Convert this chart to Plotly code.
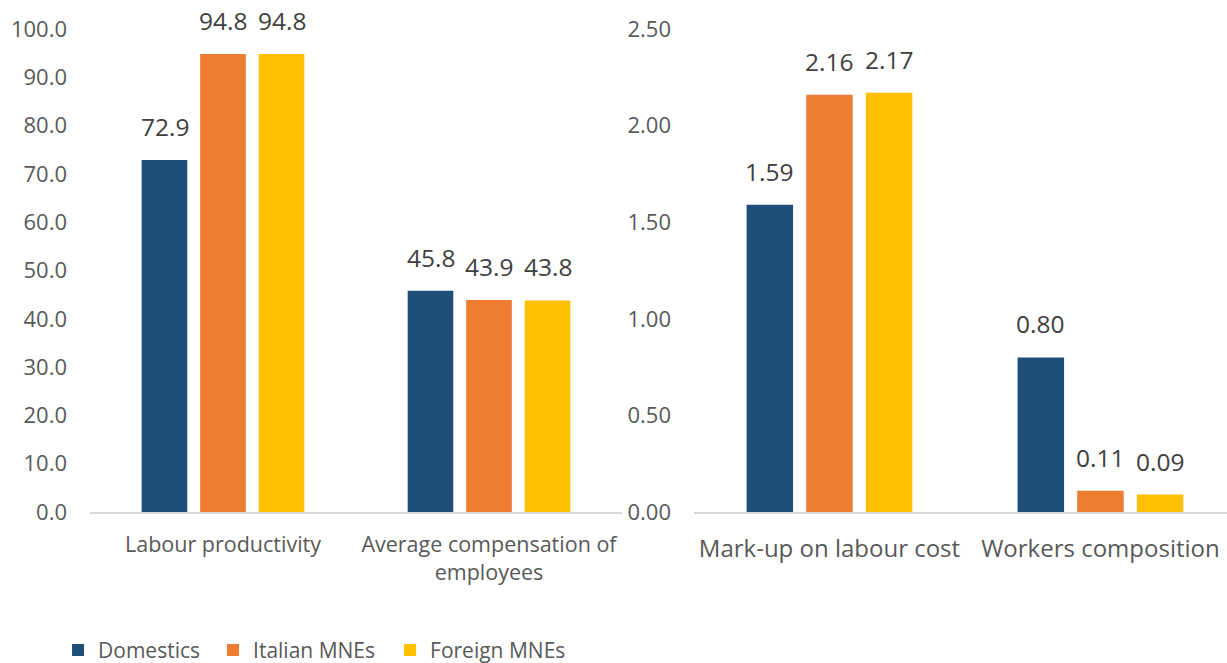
import plotly.graph_objects as go

series = ["Domestics", "Italian MNEs", "Foreign MNEs"]
colors = ["#1F4E79", "#ED7D31", "#FFC000"]

left_categories = ["Labour productivity", "Average compensation of<br>employees"]
left_values = [
    [72.9, 45.8],   # Domestics
    [94.8, 43.9],   # Italian MNEs
    [94.8, 43.8],   # Foreign MNEs
]
right_categories = ["Mark-up on labour cost", "Workers composition"]
right_values = [
    [1.59, 0.80],
    [2.16, 0.11],
    [2.17, 0.09],
]

left_ticks = [0, 10, 20, 30, 40, 50, 60, 70, 80, 90, 100]
right_ticks = [0, 0.5, 1.0, 1.5, 2.0, 2.5]

FONT = "Open Sans, Liberation Sans, sans-serif"
TXT = "#595959"
LBL = "#404040"
legend_widths = [110, 132, 140]

fig = go.Figure()
for i, name in enumerate(series):
    fig.add_trace(go.Bar(x=left_categories, y=left_values[i], name=name,
                         marker=dict(color=colors[i], line=dict(width=0)),
                         xaxis="x", yaxis="y", legendgroup=name, showlegend=True,
                         legendwidth=legend_widths[i], offsetgroup=str(i)))
    fig.add_trace(go.Bar(x=right_categories, y=right_values[i], name=name,
                         marker=dict(color=colors[i], line=dict(width=0)),
                         xaxis="x2", yaxis="y2", legendgroup=name, showlegend=False,
                         offsetgroup=str(i)))

annotations = []
left_pitch = 58.5
right_pitch = 60
for i in range(3):
    for j, c in enumerate(left_categories):
        annotations.append(dict(x=c, y=left_values[i][j], xref="x", yref="y",
                                text=f"{left_values[i][j]:.1f}", showarrow=False,
                                yanchor="bottom", yshift=15, xshift=(i - 1) * left_pitch,
                                font=dict(family=FONT, size=24.5, color=LBL)))
    for j, c in enumerate(right_categories):
        annotations.append(dict(x=c, y=right_values[i][j], xref="x2", yref="y2",
                                text=f"{right_values[i][j]:.2f}", showarrow=False,
                                yanchor="bottom", yshift=15, xshift=(i - 1) * right_pitch,
                                font=dict(family=FONT, size=24.5, color=LBL)))

fig.update_layout(
    width=1227, height=663,
    margin=dict(l=90, r=0, t=29, b=151, autoexpand=False),
    paper_bgcolor="white", plot_bgcolor="white",
    barmode="group", bargap=0.34, bargroupgap=0.22,
    font=dict(family=FONT, color=TXT),
    annotations=annotations,
    showlegend=True,
    legend=dict(orientation="h", x=-0.0281, y=-0.2440, xanchor="left", yanchor="top",
                font=dict(family=FONT, size=21, color=TXT), itemwidth=30,
                traceorder="normal"),
    xaxis=dict(domain=[0, 0.4679], range=[-0.5, 1.5], showgrid=False,
               showline=True, linecolor="#D9D9D9", linewidth=2, ticks="",
               tickfont=dict(family=FONT, size=21.5, color=TXT), ticklabelstandoff=12,
               zeroline=False),
    yaxis=dict(range=[0, 100], tickvals=left_ticks, tickformat=".1f",
               showgrid=False, showline=False, zeroline=False, ticks="",
               tickfont=dict(family=FONT, size=22, color=TXT), ticklabelstandoff=22),
    xaxis2=dict(domain=[0.5312, 1], range=[-0.5, 1.467], showgrid=False,
                showline=True, linecolor="#D9D9D9", linewidth=2, ticks="",
                tickfont=dict(family=FONT, size=24, color=TXT), ticklabelstandoff=14,
                anchor="y2", zeroline=False),
    yaxis2=dict(range=[0, 2.5], tickvals=right_ticks, tickformat=".2f",
                showgrid=False, showline=False, zeroline=False, ticks="",
                tickfont=dict(family=FONT, size=22, color=TXT), ticklabelstandoff=22,
                anchor="x2"),
)

# Remove the browser's default 8px page margin so the figure fills the window.
fig.write_html("out.html",
               config={"displayModeBar": False},
               post_script="document.body.style.margin='0';document.body.style.overflow='hidden';")
